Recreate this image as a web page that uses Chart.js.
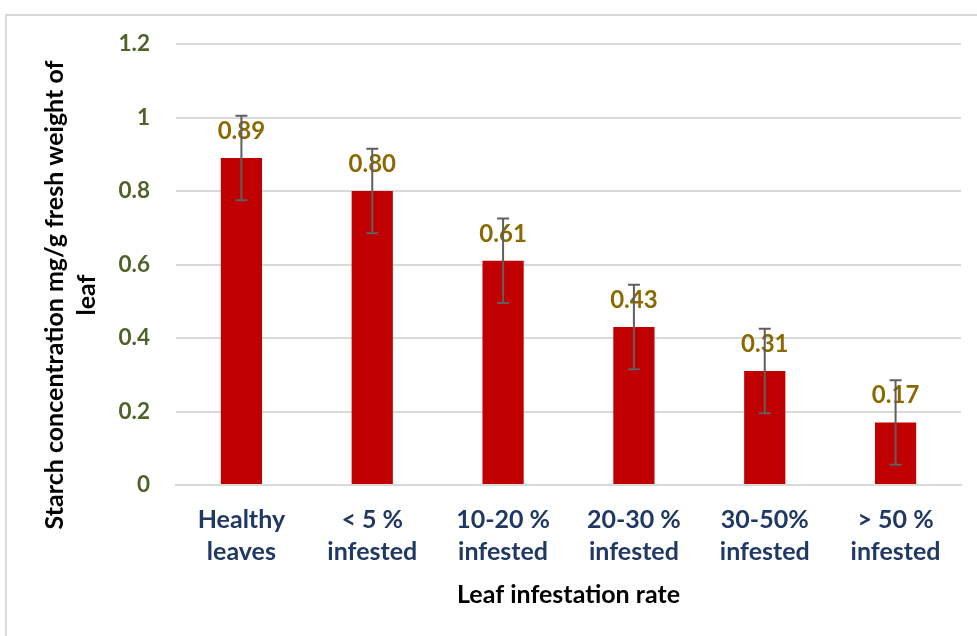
<!DOCTYPE html>
<html>
<head>
<meta charset="utf-8">
<script src="https://cdn.jsdelivr.net/npm/chart.js@4.4.1/dist/chart.umd.min.js"></script>
<style>
  html, body { margin: 0; padding: 0; background: #fff; overflow: hidden; }
  #frame { position: absolute; left: 5px; top: 14px; width: 1000px; height: 700px;
           border-top: 2px solid #d9d9d9; border-left: 2px solid #d9d9d9; }
  #wrap { position: absolute; left: 0; top: 0; width: 977px; height: 636px; }
</style>
</head>
<body>
<div id="frame"></div>
<div id="wrap"><canvas id="c" width="977" height="636"></canvas></div>
<script>
const categories = [['Healthy', 'leaves'], ['< 5 %', 'infested'], ['10-20 %', 'infested'],
                    ['20-30 %', 'infested'], ['30-50%', 'infested'], ['> 50 %', 'infested']];
const starch = [0.89, 0.80, 0.61, 0.43, 0.31, 0.17];
const starchError = [0.115, 0.115, 0.115, 0.115, 0.115, 0.115];
const valueLabels = ['0.89', '0.80', '0.61', '0.43', '0.31', '0.17'];
const yTitle = ['Starch concentration mg/g fresh weight of', 'leaf'];
const xTitle = 'Leaf infestation rate';

const FONT = 'Lato';

const extrasPlugin = {
  id: 'extras',
  afterDatasetsDraw(chart) {
    const ctx = chart.ctx;
    const meta = chart.getDatasetMeta(0);
    const y = chart.scales.y;
    ctx.save();
    // value labels
    ctx.font = 'bold 24px ' + FONT;
    ctx.fillStyle = '#8a6a00';
    ctx.textAlign = 'center';
    ctx.textBaseline = 'middle';
    meta.data.forEach((bar, i) => {
      ctx.fillText(valueLabels[i], bar.x, bar.y - 27);
    });
    // error bars
    ctx.strokeStyle = '#5f5f5f';
    ctx.lineWidth = 2;
    meta.data.forEach((bar, i) => {
      const v = starch[i], e = starchError[i];
      const yt = y.getPixelForValue(v + e), yb = y.getPixelForValue(v - e);
      ctx.beginPath();
      ctx.moveTo(bar.x, yt); ctx.lineTo(bar.x, yb);
      ctx.moveTo(bar.x - 6, yt); ctx.lineTo(bar.x + 6, yt);
      ctx.moveTo(bar.x - 6, yb); ctx.lineTo(bar.x + 6, yb);
      ctx.stroke();
    });
    // y axis title
    ctx.font = 'bold 25px ' + FONT;
    ctx.fillStyle = '#000';
    ctx.translate(55, 295);
    ctx.rotate(-Math.PI / 2);
    ctx.fillText(yTitle[0], 0, 0);
    ctx.fillText(yTitle[1], 0, 32);
    ctx.restore();
  }
};

new Chart(document.getElementById('c'), {
  type: 'bar',
  data: {
    labels: categories,
    datasets: [{
      data: starch,
      backgroundColor: '#c00000',
      barPercentage: 0.315,
      categoryPercentage: 1.0
    }]
  },
  options: {
    responsive: false,
    animation: false,
    devicePixelRatio: 1,
    layout: { padding: { left: 0, right: 16, top: 44, bottom: 0 } },
    plugins: { legend: { display: false }, tooltip: { enabled: false } },
    scales: {
      x: {
        grid: { display: false, drawTicks: false },
        border: { display: true, color: '#d9d9d9', width: 2 },
        ticks: {
          color: '#1f3864',
          font: { family: FONT, size: 25, weight: 'bold', lineHeight: 1.28 },
          padding: 19,
          maxRotation: 0, autoSkip: false
        },
        title: {
          display: true, text: xTitle, color: '#000',
          font: { family: FONT, size: 25, weight: 'bold', lineHeight: 1.2 },
          padding: { top: 0, bottom: 26 }
        },
        afterFit(s) { s.height = 151; }
      },
      y: {
        min: 0, max: 1.2,
        grid: { color: '#d9d9d9', lineWidth: 2, drawTicks: false },
        border: { display: false },
        ticks: {
          stepSize: 0.2,
          color: '#4f6228',
          font: { family: FONT, size: 22.5, weight: 'bold' },
          padding: 26,
          callback: v => String(Math.round(v * 10) / 10)
        },
        afterFit(s) { s.width = 176; }
      }
    }
  },
  plugins: [extrasPlugin]
});
</script>
</body>
</html>
